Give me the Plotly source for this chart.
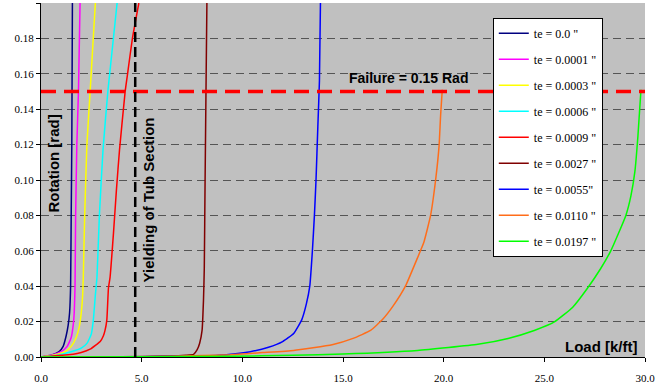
import plotly.graph_objects as go

# ---- data (load [k/ft], rotation [rad]) ----
names = ['te = 0.0 "', 'te = 0.0001 "', 'te = 0.0003 "', 'te = 0.0006 "',
         'te = 0.0009 "', 'te = 0.0027 "', 'te = 0.0055"', 'te = 0.0110 "',
         'te = 0.0197 "']
colors = ["#000080", "#FF00FF", "#FFFF00", "#00FFFF", "#FF0000",
          "#800000", "#0000FF", "#FF6D1A", "#00FF00"]

load_te0000 = [0, 0.5, 0.9, 1.1, 1.25, 1.35, 1.42, 1.47, 1.5, 1.53, 1.56]
rot_te0000 = [0, 0.001, 0.003, 0.006, 0.012, 0.018, 0.025, 0.04, 0.08, 0.12, 0.2]

load_te0001 = [0, 0.5, 1.0, 1.3, 1.5, 1.6, 1.65, 1.69, 1.72, 1.78, 1.86, 1.94]
rot_te0001 = [0, 0.001, 0.003, 0.006, 0.011, 0.018, 0.025, 0.04, 0.08, 0.12, 0.15, 0.2]

load_te0003 = [0, 0.6, 1.2, 1.5, 1.75, 1.9, 2.0, 2.07, 2.1, 2.17, 2.28, 2.44, 2.7]
rot_te0003 = [0, 0.001, 0.003, 0.006, 0.011, 0.017, 0.025, 0.035, 0.045, 0.08, 0.12, 0.15, 0.2]

load_te0006 = [0, 0.8, 1.5, 2.0, 2.3, 2.5, 2.6, 2.7, 2.78, 2.9, 3.08, 3.32, 3.78]
rot_te0006 = [0, 0.001, 0.003, 0.005, 0.008, 0.013, 0.021, 0.035, 0.045, 0.08, 0.117, 0.15, 0.2]

load_te0009 = [0, 1.0, 1.6, 2.0, 2.44, 2.75, 2.94, 3.1, 3.18, 3.27, 3.35, 3.43,
               3.6, 3.75, 3.9, 4.18, 4.3, 4.54, 4.86]
rot_te0009 = [0, 0.001, 0.0015, 0.0025, 0.0044, 0.007, 0.0087, 0.012, 0.015, 0.021,
              0.039, 0.045, 0.07, 0.095, 0.117, 0.15, 0.16, 0.18, 0.2]

load_te0027 = [0, 4.0, 6.4, 7.2, 7.58, 7.75, 7.88, 8.0, 8.07, 8.11, 8.15, 8.21, 8.24]
rot_te0027 = [0, 0.0002, 0.0005, 0.001, 0.0015, 0.004, 0.0078, 0.015, 0.032, 0.05,
              0.1, 0.167, 0.2]

load_te0055 = [0, 5.0, 8.0, 9.2, 10.4, 11.3, 12.0, 12.55, 12.95, 13.18, 13.35,
               13.48, 13.58, 13.66, 13.75, 13.83, 13.88]
rot_te0055 = [0, 0.0002, 0.0006, 0.0013, 0.003, 0.0055, 0.0087, 0.0133, 0.021,
              0.03, 0.04, 0.06, 0.08, 0.1, 0.13, 0.156, 0.2]

load_te0110 = [0, 5.0, 8.0, 9.4, 11.0, 12.55, 14.46, 15.5, 16.37, 16.95, 17.5,
               18.1, 18.7, 19.02, 19.35, 19.6, 19.77, 19.85, 19.93]
rot_te0110 = [0, 0.0002, 0.0008, 0.0013, 0.0025, 0.0037, 0.0069, 0.0105, 0.015,
              0.021, 0.029, 0.04, 0.056, 0.065, 0.08, 0.1, 0.119, 0.137, 0.151]

load_te0197 = [0, 5.0, 9.4, 12.5, 15.0, 18.7, 21.7, 23.2, 24.5, 25.5, 26.4, 27.15,
               27.8, 28.3, 29.05, 29.3, 29.5, 29.65, 29.8]
rot_te0197 = [0, 0.0001, 0.0004, 0.001, 0.0017, 0.0037, 0.0072, 0.0105, 0.015,
              0.0198, 0.028, 0.039, 0.05, 0.06, 0.08, 0.091, 0.105, 0.125, 0.151]

loads = [load_te0000, load_te0001, load_te0003, load_te0006, load_te0009,
         load_te0027, load_te0055, load_te0110, load_te0197]
rots = [rot_te0000, rot_te0001, rot_te0003, rot_te0006, rot_te0009,
        rot_te0027, rot_te0055, rot_te0110, rot_te0197]

failure_rot = 0.15
yield_load = 4.68

x_ticks = [0, 5, 10, 15, 20, 25, 30]
y_ticks = [0, 0.02, 0.04, 0.06, 0.08, 0.10, 0.12, 0.14, 0.16, 0.18, 0.20]

serif = "Liberation Serif, Times New Roman, DejaVu Serif, serif"
sans = "Liberation Sans, Arial, sans-serif"

fig = go.Figure()
for i, (n, c, xs, ys) in enumerate(zip(names, colors, loads, rots)):
    fig.add_trace(go.Scatter(x=xs, y=ys, mode="lines", name=n,
                             legendgroup=f"g{i}",
                             line=dict(color=c, width=1.5, shape="spline", smoothing=0.4)))

fig.add_shape(type="line", xref="x", yref="y", x0=0, x1=30, y0=failure_rot, y1=failure_rot,
              line=dict(color="#FF0000", width=3.5, dash="15px,8px"), layer="above")
fig.add_shape(type="line", xref="x", yref="y", x0=yield_load, x1=yield_load, y0=0, y1=0.2,
              line=dict(color="black", width=2.5, dash="10px,5px"), layer="above")

fig.add_annotation(x=18.26, y=0.1576, text="<b>Failure = 0.15 Rad</b>", showarrow=False,
                   font=dict(family=sans, size=14, color="black"))
fig.add_annotation(x=5.32, y=0.0885, text="<b>Yielding of Tub Section</b>", showarrow=False,
                   textangle=-90, font=dict(family=sans, size=15, color="black"))
fig.add_annotation(x=0.6, y=0.1093, text="<b>Rotation [rad]</b>", showarrow=False,
                   textangle=-90, font=dict(family=sans, size=15, color="black"))
fig.add_annotation(x=27.86, y=0.006, text="<b>Load [k/ft]</b>", showarrow=False,
                   font=dict(family=sans, size=15, color="black"))

fig.update_layout(
    width=666, height=387,
    margin=dict(l=41, r=21, t=3, b=26),
    paper_bgcolor="white", plot_bgcolor="#C0C0C0",
    showlegend=True,
    legend=dict(x=0.748, y=0.958, xanchor="left", yanchor="top",
                bgcolor="white", bordercolor="black", borderwidth=1,
                font=dict(family=serif, size=12, color="black"),
                tracegroupgap=7, itemwidth=30),
    xaxis=dict(range=[0, 30], tickvals=x_ticks, tickformat=".1f",
               showline=True, linecolor="black", linewidth=1,
               ticks="outside", ticklen=4, tickcolor="black",
               showgrid=False, zeroline=False, ticklabelstandoff=7,
               tickfont=dict(family=serif, size=11, color="black")),
    yaxis=dict(range=[0, 0.2], tickvals=y_ticks, tickformat=".2f",
               showline=True, linecolor="black", linewidth=1,
               ticks="outside", ticklen=4, tickcolor="black",
               showgrid=True, gridcolor="#555555", gridwidth=1, griddash="8px,5px",
               zeroline=False,
               tickfont=dict(family=serif, size=11, color="black")),
)

fig.write_html("out.html")
